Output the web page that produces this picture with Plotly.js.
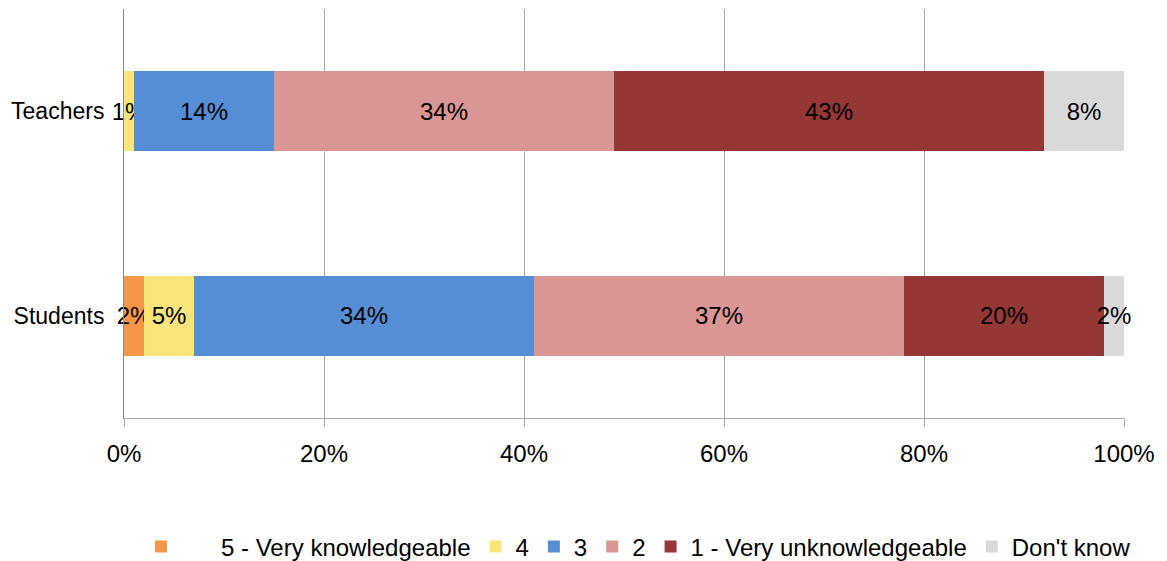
<!DOCTYPE html>
<html>
<head>
<meta charset="utf-8">
<script src="https://cdn.plot.ly/plotly-3.0.1.min.js"></script>
<style>html,body{margin:0;padding:0;background:#fff;}#chart{width:1167px;height:561px;}</style>
</head>
<body>
<div id="chart"></div>
<script>
const categories = ['Students', 'Teachers'];
const seriesNames = ['5 - Very knowledgeable', '4', '3', '2', '1 - Very unknowledgeable', "Don't know"];
const v5 = [2, 0];
const v4 = [5, 1];
const v3 = [34, 14];
const v2 = [37, 34];
const v1 = [20, 43];
const vDK = [2, 8];
const seriesValues = [v5, v4, v3, v2, v1, vDK];
const colors = ['#F79646', '#FAE57B', '#558ED5', '#D99694', '#953735', '#D9D9D9'];
const xTickVals = [0, 20, 40, 60, 80, 100];
const xTickText = ['0%', '20%', '40%', '60%', '80%', '100%'];

const font = "Liberation Sans, Arial, Helvetica, sans-serif";

const traces = seriesNames.map((name, i) => ({
  type: 'bar',
  orientation: 'h',
  name: i === 0 ? '\u00a0\u00a0\u00a0\u00a0\u00a0\u00a0' + name : name,
  y: categories,
  x: seriesValues[i],
  marker: {color: colors[i], line: {width: 0}},
  text: seriesValues[i].map(v => v > 0 ? v + '%' : ''),
  textposition: 'inside',
  insidetextanchor: 'middle',
  textangle: 0,
  textfont: {family: font, size: 24, color: '#000'},
  cliponaxis: false,
  hoverinfo: 'skip'
}));

const layout = {
  width: 1167,
  height: 561,
  barmode: 'stack',
  bargap: 0.61,
  constraintext: 'none',
  uniformtext: {mode: 'show', minsize: 24},
  paper_bgcolor: '#fff',
  plot_bgcolor: '#fff',
  margin: {l: 124, r: 43, t: 9, b: 143, autoexpand: false},
  font: {family: font, size: 24, color: '#000'},
  xaxis: {
    range: [0, 100],
    tickvals: xTickVals,
    ticktext: xTickText,
    showgrid: true,
    gridcolor: '#A6A6A6',
    gridwidth: 1,
    zeroline: false,
    showline: true,
    linecolor: '#A6A6A6',
    linewidth: 1,
    ticks: 'outside',
    ticklen: 8,
    tickcolor: '#A6A6A6',
    ticklabelstandoff: 6,
    tickfont: {family: font, size: 24, color: '#000'},
    fixedrange: true
  },
  yaxis: {
    type: 'category',
    categoryorder: 'array',
    categoryarray: categories,
    showgrid: false,
    zeroline: false,
    showline: true,
    linecolor: '#888',
    linewidth: 1,
    ticks: '',
    ticklabelstandoff: 14,
    tickfont: {family: font, size: 23, color: '#000'},
    fixedrange: true
  },
  showlegend: true,
  legend: {
    orientation: 'h',
    x: 0.017,
    xanchor: 'left',
    y: -0.315,
    yanchor: 'middle',
    font: {family: font, size: 24, color: '#000'},
    traceorder: 'normal',
    itemwidth: 30,
    tracegroupgap: 0
  }
};

Plotly.newPlot('chart', traces, layout, {displayModeBar: false, staticPlot: true});
</script>
</body>
</html>
